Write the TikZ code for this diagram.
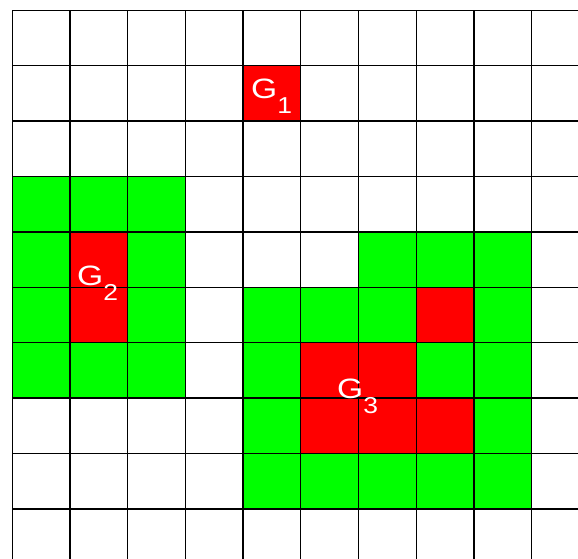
\documentclass[tikz,border=0pt]{standalone}
\usepackage{fontspec}
\setmainfont{Liberation Sans}
\definecolor{cellred}{RGB}{255,0,0}
\definecolor{cellgreen}{RGB}{0,255,0}
\newcommand{\glabel}[1]{\scalebox{1.2}[1]{\fontsize{28}{28}\selectfont G}\raisebox{-15pt}{\scalebox{1.15}[1]{\fontsize{23}{23}\selectfont #1}}}
\begin{document}
\begin{tikzpicture}[x=1pt,y=-1pt,
  gridline/.style={black,line width=1.3pt},
  lbl/.style={text=white,inner sep=0pt,anchor=base west}]
\useasboundingbox (0,0) rectangle (578,558);
\clip (0,0) rectangle (578,558);
\begin{scope}[shift={(12.3,10.3)},x=57.7pt,y=-55.4pt]
  % green regions
  \fill[cellgreen] (0,3) rectangle (3,7);
  \fill[cellgreen] (6,4) rectangle (9,5);
  \fill[cellgreen] (4,5) rectangle (9,9);
  % red cells
  \foreach \c/\r in {4/1,1/4,1/5,7/5,5/6,6/6,5/7,6/7,7/7}
    \fill[cellred] (\c,\r) rectangle (\c+1,\r+1);
  % grid lines
  \foreach \i in {0,...,10}
    \draw[gridline] (\i,0) -- (\i,10);
  \foreach \j in {0,...,10}
    \draw[gridline] (0,\j) -- (11,\j);
\end{scope}
\node[lbl] (g1) at (251,98) {\glabel{1}};
\node[lbl] (g2) at (77,285) {\glabel{2}};
\node[lbl] (g3) at (337,398) {\glabel{3}};
\end{tikzpicture}
\end{document}
